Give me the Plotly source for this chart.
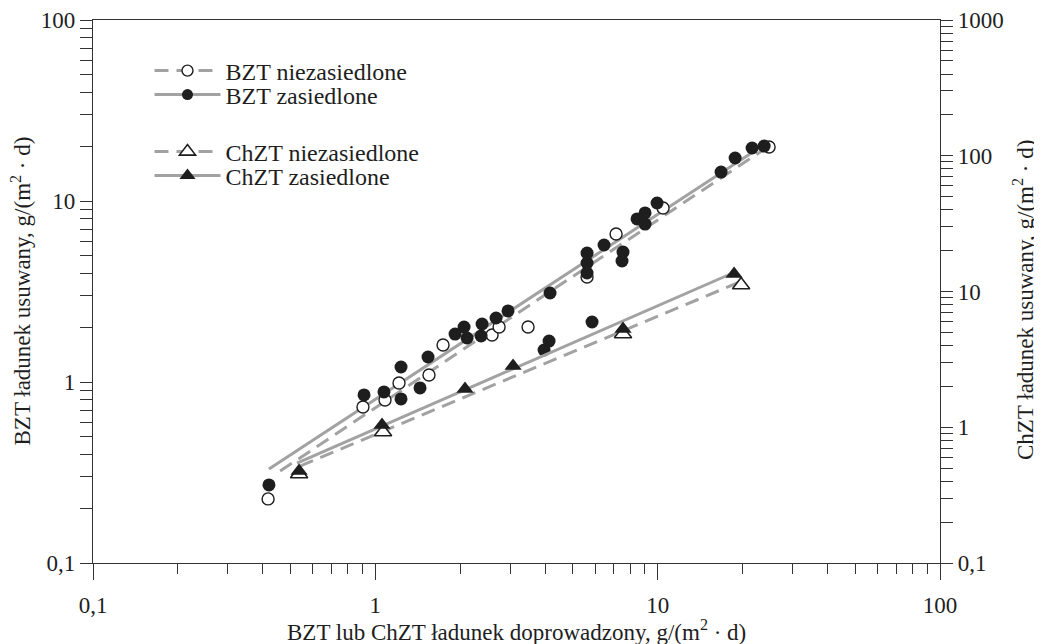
import plotly.graph_objects as go

# ---------------- data ----------------
# BZT niezasiedlone (open circles) - left axis
bzt_nz_x = [0.417, 0.904, 1.082, 1.213, 1.549, 1.737, 2.591, 2.744, 3.475, 5.622, 7.124, 10.45, 24.81]
bzt_nz_y = [0.226, 0.727, 0.795, 0.987, 1.093, 1.601, 1.818, 2.013, 2.013, 3.804, 6.57, 9.15, 19.87]

# BZT zasiedlone (filled circles) - left axis
bzt_z_x = [0.420, 0.912, 1.073, 1.233, 1.233, 1.440, 1.537, 1.916, 2.062, 2.113, 2.369, 2.388,
           2.677, 2.951, 3.959, 4.124, 4.158, 5.622, 5.622, 5.622, 5.856, 6.458, 7.477, 7.538,
           8.454, 9.024, 9.024, 9.952, 16.77, 18.81, 21.60, 23.83]
bzt_z_y = [0.270, 0.848, 0.881, 0.806, 1.210, 0.927, 1.374, 1.841, 2.013, 1.750, 1.795, 2.091,
           2.258, 2.469, 1.502, 1.684, 3.102, 5.161, 4.545, 4.002, 2.145, 5.714, 4.661, 5.227,
           7.96, 8.59, 7.46, 9.75, 14.45, 17.28, 19.62, 20.12]

# ChZT niezasiedlone (open triangles) - right axis
chzt_nz_x = [0.537, 1.065, 7.538, 19.75]
chzt_nz_y = [0.452, 0.923, 4.863, 11.17]

# ChZT zasiedlone (filled triangles) - right axis
chzt_z_x = [0.537, 1.056, 2.078, 3.075, 7.538, 18.65]
chzt_z_y = [0.476, 1.039, 1.913, 2.827, 5.296, 13.45]

# regression lines (end points)
bzt_nz_fit_x = [0.460, 24.21]
bzt_nz_fit_y = [0.322, 19.63]
bzt_z_fit_x = [0.420, 23.44]
bzt_z_fit_y = [0.331, 20.13]
chzt_nz_fit_x = [0.541, 19.91]
chzt_nz_fit_y = [0.518, 11.95]
chzt_z_fit_x = [0.528, 18.81]
chzt_z_fit_y = [0.545, 13.92]

# tick labels
x_tickvals = [0.1, 1, 10, 100]
x_ticktext = ["0,1", "1", "10", "100"]
yl_tickvals = [0.1, 1, 10, 100]
yl_ticktext = ["0,1", "1", "10", "100"]
yr_tickvals = [0.1, 1, 10, 100, 1000]
yr_ticktext = ["0,1", "1", "10", "100", "1000"]

names = ["BZT niezasiedlone", "BZT zasiedlone", "ChZT niezasiedlone", "ChZT zasiedlone"]
x_title = "BZT lub ChZT ładunek doprowadzony, g/(m<sup>2</sup> · d)"
yl_title = "BZT ładunek usuwany, g/(m<sup>2</sup> · d)"
yr_title = "ChZT ładunek usuwany, g/(m<sup>2</sup> · d)"

# ---------------- style ----------------
FONT = "Liberation Serif"
INK = "#1e1e1e"
AX = "#333333"
GRAY = "#a2a2a2"
LW = 3
DASH = "14px,8px"
FS = 23
FS_LEG = 24

fig = go.Figure()

# lines
fig.add_trace(go.Scatter(x=bzt_nz_fit_x, y=bzt_nz_fit_y, mode="lines",
                         line=dict(color=GRAY, width=LW, dash=DASH), showlegend=False, hoverinfo="skip"))
fig.add_trace(go.Scatter(x=bzt_z_fit_x, y=bzt_z_fit_y, mode="lines",
                         line=dict(color=GRAY, width=LW), showlegend=False, hoverinfo="skip"))
fig.add_trace(go.Scatter(x=chzt_nz_fit_x, y=chzt_nz_fit_y, mode="lines", yaxis="y2",
                         line=dict(color=GRAY, width=LW, dash=DASH), showlegend=False, hoverinfo="skip"))
fig.add_trace(go.Scatter(x=chzt_z_fit_x, y=chzt_z_fit_y, mode="lines", yaxis="y2",
                         line=dict(color=GRAY, width=LW), showlegend=False, hoverinfo="skip"))

open_circle = dict(symbol="circle", size=12, color="white", line=dict(color=INK, width=1.4))
fill_circle = dict(symbol="circle", size=13, color=INK, line=dict(color=INK, width=0))
open_tri = dict(symbol="triangle-up", size=15, color="white", line=dict(color=INK, width=1.6))
fill_tri = dict(symbol="triangle-up", size=15, color=INK, line=dict(color=INK, width=0))

# markers
fig.add_trace(go.Scatter(x=bzt_nz_x, y=bzt_nz_y, mode="markers", marker=open_circle, showlegend=False))
fig.add_trace(go.Scatter(x=bzt_z_x, y=bzt_z_y, mode="markers", marker=fill_circle, showlegend=False))
fig.add_trace(go.Scatter(x=chzt_nz_x, y=chzt_nz_y, mode="markers", yaxis="y2", marker=open_tri, showlegend=False))
fig.add_trace(go.Scatter(x=chzt_z_x, y=chzt_z_y, mode="markers", yaxis="y2", marker=fill_tri, showlegend=False))

# legend entries (line + marker samples)
leg_styles = [
    (dict(color=GRAY, width=LW, dash=DASH), dict(open_circle, size=11)),
    (dict(color=GRAY, width=LW), dict(fill_circle, size=11)),
    (dict(color=GRAY, width=LW, dash=DASH), dict(open_tri, size=14)),
    (dict(color=GRAY, width=LW), dict(fill_tri, size=14)),
]
leg_ids = ["legend", "legend2", "legend3", "legend4"]
leg_y = [0.9061, 0.8619, 0.7569, 0.7127]
for nm, (ln, mk), lid in zip(names, leg_styles, leg_ids):
    fig.add_trace(go.Scatter(x=[None], y=[None], mode="lines+markers", name=nm,
                             line=ln, marker=mk, legend=lid, showlegend=True))

legend_common = dict(xanchor="left", yanchor="middle", bgcolor="rgba(0,0,0,0)",
                     font=dict(family=FONT, size=FS_LEG, color=INK), itemwidth=66,
                     borderwidth=0, tracegroupgap=0)

axis_common = dict(type="log", showline=True, linecolor=AX, linewidth=1.3,
                   showgrid=False, zeroline=False, ticks="outside", tickcolor=AX,
                   tickwidth=1.2, tickfont=dict(family=FONT, size=FS, color=INK),
                   tickmode="array", automargin=False)

def minors(lo, hi):
    return [m * 10 ** e for e in range(lo, hi) for m in range(2, 10)]

title_font = dict(family=FONT, size=FS, color=INK)

fig.update_layout(
    width=1034, height=636,
    margin=dict(l=85, r=102, t=12, b=81, autoexpand=False),
    paper_bgcolor="white", plot_bgcolor="white",
    font=dict(family=FONT, size=FS, color=INK),
    xaxis=dict(axis_common, range=[-1, 2], tickvals=x_tickvals, ticktext=x_ticktext,
               ticklen=16, mirror=True, ticklabelstandoff=5,
               minor=dict(tickmode="array", tickvals=minors(-1, 2), ticks="outside",
                          ticklen=10, tickcolor=AX, tickwidth=1.2, showgrid=False)),
    yaxis=dict(axis_common, range=[-1, 2], tickvals=yl_tickvals, ticktext=yl_ticktext,
               ticklen=12,
               minor=dict(tickmode="array", tickvals=minors(-1, 2), ticks="outside",
                          ticklen=12, tickcolor=AX, tickwidth=1.2, showgrid=False)),
    yaxis2=dict(axis_common, range=[-1, 3], tickvals=yr_tickvals, ticktext=yr_ticktext,
                ticklen=12, overlaying="y", side="right", anchor="x",
                minor=dict(tickmode="array", tickvals=minors(-1, 3), ticks="outside",
                           ticklen=12, tickcolor=AX, tickwidth=1.2, showgrid=False)),
    legend=dict(legend_common, x=0.0667, y=leg_y[0]),
    legend2=dict(legend_common, x=0.0667, y=leg_y[1]),
    legend3=dict(legend_common, x=0.0667, y=leg_y[2]),
    legend4=dict(legend_common, x=0.0667, y=leg_y[3]),
    showlegend=True,
    annotations=[
        dict(text=x_title, xref="paper", yref="paper", x=0.5, y=-0.1234,
             xanchor="center", yanchor="middle", showarrow=False, font=title_font),
        dict(text=yl_title, xref="paper", yref="paper", x=-0.0850, y=0.5,
             xanchor="center", yanchor="middle", showarrow=False, font=title_font, textangle=-90),
        dict(text=yr_title, xref="paper", yref="paper", x=1.0980, y=0.4843,
             xanchor="center", yanchor="middle", showarrow=False, font=title_font, textangle=-90),
    ],
)

fig.write_html("out.html")
